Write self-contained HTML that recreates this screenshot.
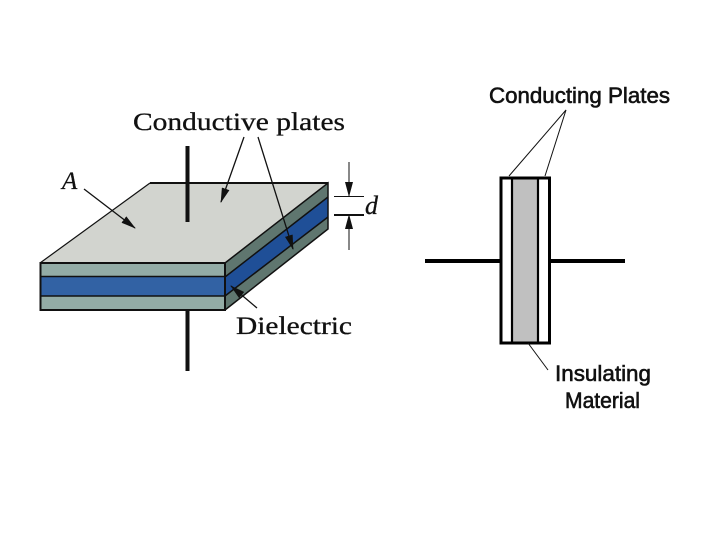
<!DOCTYPE html>
<html>
<head>
<meta charset="utf-8">
<style>
html,body{margin:0;padding:0;background:#fff;width:720px;height:540px;overflow:hidden}
svg{display:block}
text{fill:#111}
.serif{font-family:"Liberation Serif",serif;stroke:#111;stroke-width:.3px}
.sans{font-family:"Liberation Sans",sans-serif;stroke:#111;stroke-width:.6px}
</style>
</head>
<body>
<svg width="720" height="540" viewBox="0 0 720 540" xmlns="http://www.w3.org/2000/svg">
<defs>
<marker id="a" markerWidth="15" markerHeight="8" refX="14" refY="4" orient="auto" markerUnits="userSpaceOnUse"><path d="M0 0L15 4L0 8Z" fill="#111"/></marker>
</defs>

<!-- Left capacitor -->
<polygon points="150,183 328,183 225,263 40,263" fill="#d2d4cf"/>
<path d="M40 263L150 183" fill="none" stroke="#111" stroke-width="1.200"/>
<path d="M150 183H328" fill="none" stroke="#111" stroke-width="2"/>
<rect x="40" y="263" width="185" height="47" fill="#93aca6"/>
<rect x="40" y="277" width="185" height="19" fill="#3262a4"/>
<polygon points="225,263 328,183 328,229 225,310" fill="#5f766f"/>
<polygon points="225,277 328,197 328,217 225,296" fill="#1f4f97"/>
<path d="M225 277L328 197M225 296L328 217" stroke="#111" stroke-width="1.500" fill="none"/>
<path d="M40 276.500H225M40 296H225" stroke="#111" stroke-width="1.500"/>
<path d="M225 263L328 183V229L225 310" fill="none" stroke="#111" stroke-width="1.500"/>
<rect x="40.500" y="263" width="184.500" height="47" fill="none" stroke="#111" stroke-width="2"/>

<path d="M187.500 146V222M187.500 310V371" stroke="#111" stroke-width="4"/>

<!-- Arrows -->
<path d="M84 189L135 228" stroke="#111" stroke-width="1.300" marker-end="url(#a)"/>
<path d="M244 137L221 202" stroke="#111" stroke-width="1.300" marker-end="url(#a)"/>
<path d="M258 137L293 249" stroke="#111" stroke-width="1.300" marker-end="url(#a)"/>
<path d="M257 308L231 286" stroke="#111" stroke-width="1.300" marker-end="url(#a)"/>
<path d="M349 162V196" stroke="#111" stroke-width="1" marker-end="url(#a)"/>
<path d="M349 250V215" stroke="#111" stroke-width="1" marker-end="url(#a)"/>
<path d="M334 196.500H364" stroke="#111" stroke-width="1"/>
<path d="M334 215H364" stroke="#111" stroke-width="2"/>

<text class="serif" x="133" y="130" font-size="25" textLength="212" lengthAdjust="spacingAndGlyphs">Conductive plates</text>
<text class="serif" x="236" y="334" font-size="25" textLength="116" lengthAdjust="spacingAndGlyphs">Dielectric</text>
<text class="serif" x="62" y="189" font-size="25" font-style="italic">A</text>
<text class="serif" x="365" y="214" font-size="26" font-style="italic">d</text>

<!-- Right capacitor -->
<rect x="513" y="178" width="25" height="165" fill="#c0c0c0"/>
<rect x="501" y="178" width="48.500" height="165" fill="none" stroke="#000" stroke-width="3"/>
<path d="M512 178V343M538 178V343" stroke="#000" stroke-width="2.200"/>
<path d="M425 261H500M550 261H625" stroke="#000" stroke-width="4"/>
<path d="M509 176L566 110L545 176" fill="none" stroke="#111" stroke-width="1"/>
<path d="M528 343L548 370" stroke="#111" stroke-width="1"/>

<text class="sans" x="489" y="103" font-size="22" textLength="181" lengthAdjust="spacingAndGlyphs">Conducting Plates</text>
<text class="sans" x="555" y="381" font-size="22" textLength="96" lengthAdjust="spacingAndGlyphs">Insulating</text>
<text class="sans" x="565" y="408" font-size="22" textLength="75" lengthAdjust="spacingAndGlyphs">Material</text>
</svg>
</body>
</html>
